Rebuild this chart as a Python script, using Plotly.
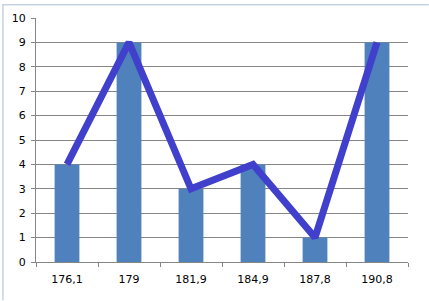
import plotly.graph_objects as go

categories = ["176,1", "179", "181,9", "184,9", "187,8", "190,8"]
bar_values = [4, 9, 3, 4, 1, 9]
line_values = [4, 9, 3, 4, 1, 9]
y_ticks = list(range(0, 11))

W, H = 429, 301
L, R, T, B = 34, 21, 14, 39
pw, ph = W - L - R, H - T - B

fig = go.Figure()
fig.add_trace(go.Bar(x=categories, y=bar_values, marker=dict(color="#4F81BD", line=dict(width=0)),
                     hoverinfo="skip"))
fig.add_trace(go.Scatter(x=categories, y=line_values, mode="lines",
                         line=dict(color="#4040CC", width=7), hoverinfo="skip"))

font = dict(family="DejaVu Sans", size=11, color="#000000")
fig.update_layout(
    width=W, height=H,
    margin=dict(l=L, r=R, t=T, b=B, pad=0),
    paper_bgcolor="white", plot_bgcolor="white",
    showlegend=False, bargap=0.6,
    font=font,
    xaxis=dict(type="category", tickson="boundaries", ticks="outside", ticklen=4,
               tickcolor="#868686", showline=True, linecolor="#868686", linewidth=1,
               showgrid=False, tickfont=font, ticklabelstandoff=7),
    yaxis=dict(range=[0, 10], tickvals=y_ticks, ticks="outside", ticklen=4,
               tickcolor="#868686", showline=True, linecolor="#868686", linewidth=1,
               showgrid=True, gridcolor="#868686", gridwidth=1, zeroline=False,
               tickfont=font, ticklabelstandoff=3),
    shapes=[
        dict(type="line", xref="paper", yref="paper", x0=-L / pw, x1=(W - L) / pw,
             y0=1 + (T - 0.5) / ph, y1=1 + (T - 0.5) / ph, line=dict(color="#C5D3E3", width=1.5)),
        dict(type="line", xref="paper", yref="paper", x0=-(L - 0.75) / pw, x1=-(L - 0.75) / pw,
             y0=-B / ph, y1=1 + T / ph, line=dict(color="#C5D3E3", width=1.5)),
    ],
)
fig.write_html("out.html")
